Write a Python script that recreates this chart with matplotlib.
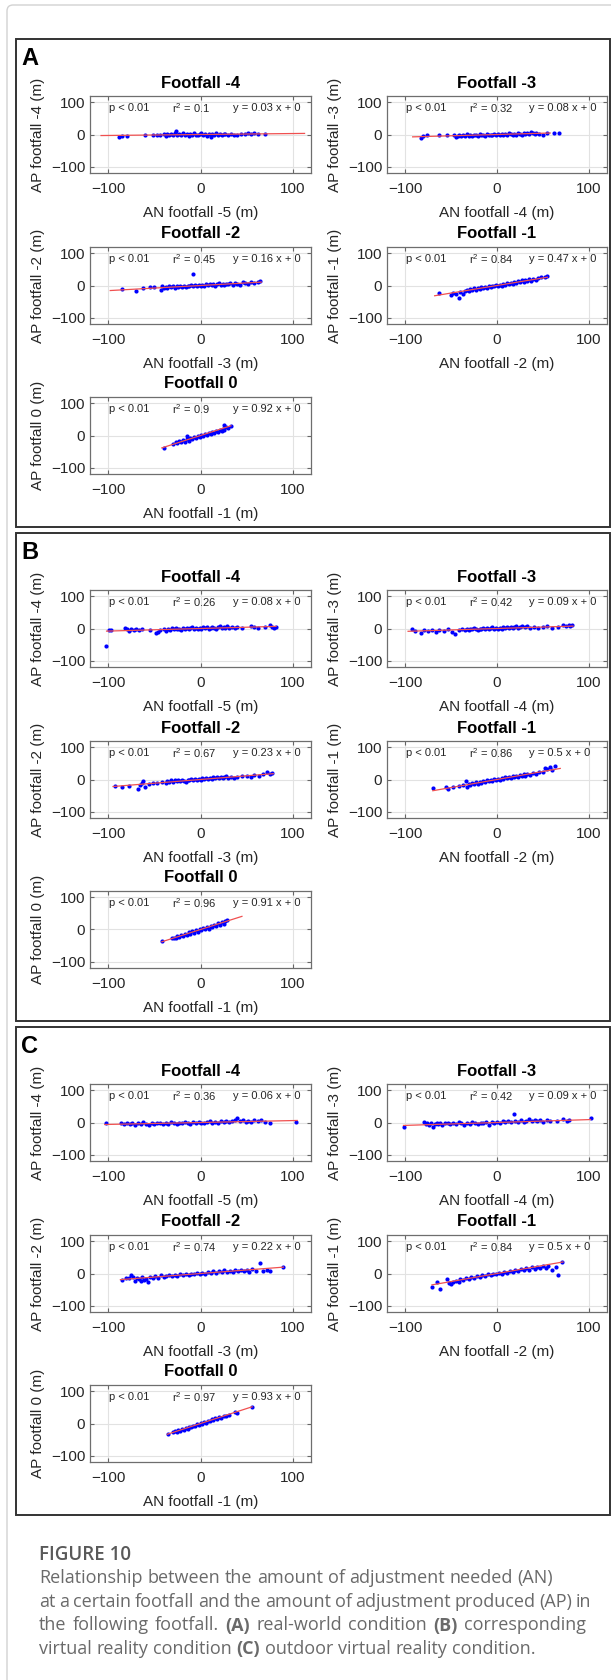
import numpy as np
import matplotlib
matplotlib.use("Agg")
import matplotlib.pyplot as plt
from matplotlib.patches import Rectangle, FancyBboxPatch
from matplotlib.transforms import IdentityTransform

W, H = 611, 1680

# ---- data: (AN, AP) pairs per footfall ----
A4_pts = [(-88,-7),(-85,-4),(-80,-5),(-60,-1),(-52,-2),(-47,0),(-44,-3),(-40,2),(-38,-4),(-36,1),
          (-34,-2),(-32,3),(-30,-1),(-28,4),(-27,10),(-25,-3),(-23,2),(-21,-2),(-19,5),(-17,-1),
          (-15,3),(-13,-4),(-11,1),(-9,-2),(-7,4),(-5,0),(-3,-3),(-1,2),(1,6),(3,-1),(5,3),(7,-5),
          (9,1),(11,-9),(13,2),(15,-2),(17,4),(19,-1),(21,2),(23,-3),(25,1),(27,3),(30,-2),(33,2),
          (36,0),(40,-1),(44,3),(48,1),(52,4),(55,3),(58,6),(62,2),(70,2)]
A3_pts = [(-83,-10),(-81,-4),(-76,-3),(-63,-1),(-55,0),(-47,-2),(-45,-8),(-43,-4),(-41,0),(-39,-6),
          (-37,-2),(-35,-5),(-33,1),(-31,-4),(-29,-1),(-27,-6),(-25,-2),(-23,0),(-21,-4),(-19,1),
          (-17,-3),(-15,-1),(-13,-5),(-11,2),(-9,-2),(-7,0),(-5,-3),(-3,2),(-1,-1),(1,1),(3,-2),
          (5,3),(7,0),(9,2),(11,-1),(13,4),(15,1),(17,-2),(19,3),(21,0),(23,4),(25,2),(27,-1),
          (29,5),(31,2),(33,4),(35,1),(37,9),(39,5),(41,3),(43,6),(46,2),(50,-1),(55,5),(62,6),(68,5)]
A2_pts = [(-85,-12),(-70,-17),(-62,-9),(-55,-6),(-50,-5),(-43,-13),(-42,-3),(-40,-9),(-38,-4),(-36,-7),
          (-34,-2),(-32,-6),(-30,-3),(-28,-8),(-26,-1),(-24,-5),(-22,-2),(-20,-6),(-18,0),(-16,-4),
          (-14,-1),(-12,-3),(-10,2),(-8,35),(-8,-2),(-6,1),(-4,-3),(-2,2),(0,0),(2,3),(4,-1),(6,4),
          (8,1),(10,5),(12,2),(14,6),(16,0),(18,4),(20,7),(22,3),(24,5),(26,1),(28,6),(30,4),(32,8),
          (35,3),(38,9),(40,5),(43,2),(46,10),(48,7),(52,4),(55,12),(58,9),(62,11),(65,14)]
A1_pts = [(-63,-24),(-50,-31),(-48,-24),(-45,-26),(-42,-40),(-40,-20),(-37,-28),(-35,-16),(-33,-14),
          (-31,-18),(-29,-12),(-27,-15),(-25,-9),(-23,-13),(-21,-8),(-19,-11),(-17,-5),(-15,-9),
          (-13,-4),(-11,-7),(-9,-2),(-7,-5),(-5,0),(-3,-3),(-1,2),(1,-1),(3,3),(5,0),(7,5),(9,2),
          (11,7),(13,4),(15,9),(17,6),(19,12),(21,8),(23,14),(25,10),(27,16),(29,12),(31,17),(33,13),
          (35,19),(37,15),(39,20),(42,18),(45,24),(48,25),(52,27),(55,31)]
A0_pts = [(-40,-38),(-30,-25),(-27,-20),(-25,-24),(-23,-18),(-21,-21),(-19,-15),(-17,-19),(-15,-3),
          (-15,-12),(-13,-16),(-11,-7),(-9,-12),(-7,-4),(-5,-9),(-3,0),(-1,-5),(1,3),(3,-2),(5,6),
          (7,1),(9,9),(11,4),(13,12),(15,7),(17,15),(19,11),(21,18),(23,13),(24,21),(25,32),(26,17),
          (28,25),(30,22),(33,29)]

B4_pts = [(-103,-55),(-99,-4),(-97,-6),(-82,2),(-80,0),(-78,-8),(-75,-2),(-72,-5),(-70,-1),(-67,-6),
          (-64,-3),(-55,-4),(-48,-14),(-46,-10),(-44,-6),(-40,-3),(-37,-8),(-35,-1),(-33,-4),(-31,1),
          (-29,-3),(-27,2),(-25,-2),(-23,0),(-21,-4),(-19,2),(-17,-1),(-15,3),(-13,-2),(-11,1),(-9,4),
          (-7,-1),(-5,2),(-3,-2),(-1,3),(1,0),(3,4),(5,1),(7,5),(9,-1),(11,3),(13,6),(15,2),(17,-1),
          (19,4),(21,7),(23,2),(25,5),(27,1),(29,8),(31,3),(34,6),(37,2),(40,5),(45,1),(55,9),(58,5),
          (62,3),(70,4),(75,10),(78,6),(80,3),(82,6)]
B3_pts = [(-93,-2),(-89,-8),(-83,-15),(-80,-6),(-75,-9),(-71,-4),(-67,-10),(-63,-5),(-58,-8),(-53,-3),
          (-49,-12),(-46,-16),(-42,-4),(-38,-2),(-35,-6),(-33,-1),(-31,-4),(-29,0),(-27,-3),(-25,1),
          (-23,-2),(-21,-5),(-19,0),(-17,-3),(-15,2),(-13,-1),(-11,3),(-9,-2),(-7,1),(-5,4),(-3,0),
          (-1,2),(1,-1),(3,3),(5,0),(7,4),(9,1),(11,5),(13,2),(15,6),(17,1),(19,4),(21,7),(23,3),
          (25,5),(27,8),(30,4),(33,7),(36,3),(40,6),(45,2),(50,5),(55,8),(60,3),(66,6),(72,10),(75,7),
          (78,12),(80,8),(82,11)]
B2_pts = [(-93,-20),(-85,-22),(-78,-19),(-68,-30),(-66,-18),(-64,-10),(-62,-6),(-60,-22),(-56,-15),
          (-52,-12),(-47,-10),(-42,-9),(-38,-11),(-36,-5),(-34,-9),(-32,-3),(-30,-7),(-28,-2),(-26,-6),
          (-24,-1),(-22,-5),(-20,0),(-18,-4),(-16,-8),(-14,-1),(-12,-3),(-10,1),(-8,-2),(-6,2),(-4,-1),
          (-2,3),(0,0),(2,4),(4,1),(6,5),(8,2),(10,6),(12,3),(14,7),(16,4),(18,9),(20,5),(22,8),(24,4),
          (26,7),(28,10),(30,6),(33,9),(36,5),(40,8),(45,10),(50,12),(55,9),(58,14),(63,10),(68,17),
          (72,22),(75,16),(78,21)]
B1_pts = [(-70,-28),(-56,-24),(-53,-29),(-48,-22),(-42,-20),(-37,-17),(-34,-6),(-33,-22),(-31,-14),
          (-29,-18),(-27,-11),(-25,-15),(-23,-9),(-21,-13),(-19,-7),(-17,-11),(-15,-5),(-13,-8),
          (-11,-3),(-9,-6),(-7,-1),(-5,-4),(-3,1),(-1,-2),(1,3),(3,0),(5,5),(7,2),(9,7),(11,4),(13,9),
          (15,5),(17,11),(19,7),(21,12),(23,9),(25,14),(27,10),(29,16),(31,12),(33,18),(36,15),(39,20),
          (42,17),(46,24),(50,22),(52,36),(55,34),(58,40),(60,30),(63,42)]
B0_pts = [(-42,-37),(-31,-28),(-29,-25),(-27,-27),(-25,-21),(-23,-24),(-21,-17),(-19,-21),(-17,-13),
          (-15,-17),(-13,-9),(-11,-14),(-9,-6),(-7,-11),(-5,-2),(-3,-7),(-1,1),(1,-3),(3,5),(5,0),
          (7,8),(9,3),(11,12),(13,7),(15,15),(17,10),(19,19),(21,14),(23,22),(25,18),(27,26),(29,30)]

C4_pts = [(-103,0),(-86,-2),(-83,-4),(-80,-1),(-77,-6),(-74,-3),(-71,-8),(-68,-2),(-65,-5),(-62,1),
          (-59,-4),(-56,-7),(-53,-2),(-50,-5),(-47,0),(-44,-3),(-41,-6),(-38,-1),(-35,-4),(-32,1),
          (-29,-2),(-26,-5),(-23,0),(-20,-3),(-17,2),(-14,-1),(-11,-4),(-8,1),(-5,-2),(-2,3),(1,0),
          (4,-3),(7,2),(10,5),(13,0),(16,3),(19,-1),(22,4),(25,1),(28,6),(31,2),(34,5),(37,9),(40,15),
          (43,4),(46,8),(49,3),(52,6),(55,2),(58,7),(62,4),(66,9),(70,3),(76,-2),(104,2)]
C3_pts = [(-101,-14),(-80,2),(-78,-5),(-76,-1),(-74,-8),(-72,-3),(-70,-14),(-68,-4),(-66,0),(-64,-6),
          (-62,-2),(-60,-9),(-57,-3),(-54,0),(-51,-6),(-48,-2),(-45,-5),(-42,1),(-39,-3),(-36,-7),
          (-33,0),(-30,-4),(-27,1),(-24,-2),(-21,-5),(-18,0),(-15,-3),(-12,2),(-9,-8),(-6,1),(-3,-2),
          (0,3),(3,0),(6,4),(9,1),(12,5),(15,2),(18,25),(20,6),(23,3),(26,7),(29,2),(32,6),(35,10),
          (38,4),(41,8),(44,5),(47,9),(50,3),(54,7),(58,5),(65,6),(72,10),(76,4),(78,9),(102,13)]
C2_pts = [(-85,-20),(-81,-15),(-78,-13),(-75,-6),(-73,-10),(-71,-22),(-69,-15),(-67,-18),(-65,-24),
          (-63,-12),(-61,-20),(-59,-16),(-57,-25),(-55,-11),(-52,-14),(-49,-9),(-46,-15),(-43,-6),
          (-40,-11),(-37,-8),(-34,-4),(-31,-9),(-28,-5),(-25,-7),(-22,-2),(-19,-6),(-16,-1),(-13,-4),
          (-10,0),(-7,-3),(-4,2),(-1,-1),(2,3),(5,0),(8,5),(11,2),(14,7),(17,3),(20,8),(23,5),(26,11),
          (29,6),(32,9),(35,5),(38,10),(41,7),(44,12),(47,8),(50,11),(53,6),(56,13),(60,9),(65,32),
          (68,7),(72,12),(75,8),(90,20)]
C1_pts = [(-71,-43),(-66,-28),(-62,-47),(-55,-18),(-52,-30),(-50,-34),(-48,-25),(-45,-22),(-42,-27),
          (-40,-16),(-37,-20),(-34,-14),(-31,-18),(-28,-11),(-25,-15),(-22,-9),(-19,-12),(-16,-6),
          (-13,-9),(-10,-3),(-7,-6),(-4,0),(-1,-3),(2,2),(5,-1),(8,5),(11,2),(14,8),(17,4),(20,11),
          (23,7),(26,14),(29,10),(32,16),(35,12),(38,19),(41,15),(44,21),(47,17),(50,23),(53,18),
          (56,24),(60,12),(64,20),(67,-5),(71,36)]
C0_pts = [(-35,-33),(-30,-28),(-28,-24),(-26,-26),(-24,-21),(-22,-23),(-20,-18),(-18,-20),(-16,-14),
          (-14,-16),(-12,-10),(-10,-12),(-8,-7),(-6,-9),(-4,-3),(-2,-5),(0,1),(2,-1),(4,5),(6,3),
          (8,9),(10,7),(12,13),(14,10),(16,16),(18,14),(20,19),(22,17),(25,22),(28,24),(31,27),
          (38,36),(40,33),(56,52)]

# regression annotations per footfall (-4, -3, -2, -1, 0)
A_slopes = [0.03, 0.08, 0.16, 0.47, 0.92]
A_r2 = [0.1, 0.32, 0.45, 0.84, 0.9]
B_slopes = [0.08, 0.09, 0.23, 0.5, 0.91]
B_r2 = [0.26, 0.42, 0.67, 0.86, 0.96]
C_slopes = [0.06, 0.09, 0.22, 0.5, 0.93]
C_r2 = [0.36, 0.42, 0.74, 0.84, 0.97]

# x extent of the fitted line
A_fit = [(-108, 113), (-92, 58), (-98, 66), (-68, 55), (-42, 33)]
B_fit = [(-102, 82), (-97, 83), (-95, 79), (-70, 69), (-42, 45)]
C_fit = [(-104, 105), (-102, 102), (-87, 90), (-71, 72), (-36, 56)]

FOOTFALLS = [-4, -3, -2, -1, 0]
TICKS = [-100, 0, 100]

CAPTION_TITLE = "FIGURE 10"
CAPTION_LINES = [
    "Relationship between the amount of adjustment needed (AN)",
    "at a certain footfall and the amount of adjustment produced (AP) in",
    "the following footfall. **(A)** real-world condition **(B)** corresponding",
    "virtual reality condition **(C)** outdoor virtual reality condition.",
]
CAPTION_JUSTIFY = [False, True, True, False]

plt.rcParams['font.family'] = ['Liberation Sans', 'DejaVu Sans']
plt.rcParams['mathtext.default'] = 'regular'

fig = plt.figure(figsize=(W / 100, H / 100), dpi=100)


def fx(x):
    return x / W


def fy(y):
    return 1 - y / H


# light page frame
frame = FancyBboxPatch((7, -40), 700, H - 5 + 40, boxstyle="round,pad=0,rounding_size=6",
                       transform=IdentityTransform(), fill=False, ec='#d2d2d2', lw=1.0)
fig.patches.append(frame)

panels = [
    ("A", [A4_pts, A3_pts, A2_pts, A1_pts, A0_pts], A_slopes, A_r2, A_fit),
    ("B", [B4_pts, B3_pts, B2_pts, B1_pts, B0_pts], B_slopes, B_r2, B_fit),
    ("C", [C4_pts, C3_pts, C2_pts, C1_pts, C0_pts], C_slopes, C_r2, C_fit),
]

ROW_TOP = [96, 247, 397]
COL_LEFT = [90, 387]
COL_W = [221, 220]
AX_H = 77

for p, (letter, pts_list, slopes, r2s, fits) in enumerate(panels):
    off = p * 494
    box = Rectangle((fx(15.5), fy(527 + off)), fx(610) - fx(15.5), 488 / H,
                    transform=fig.transFigure, fill=False, ec='#333333', lw=1.4)
    fig.patches.append(box)
    fig.text(fx(21), fy(47 + off), letter, fontsize=17, fontweight='bold', va='top', ha='left')

    for i, f in enumerate(FOOTFALLS):
        r, c = divmod(i, 2)
        left, w = COL_LEFT[c], COL_W[c]
        top = ROW_TOP[r] + off
        ax = fig.add_axes([fx(left), fy(top + AX_H), w / W, AX_H / H])

        xy = np.array(pts_list[i], dtype=float)
        ax.scatter(xy[:, 0], xy[:, 1], s=9, color='#0000ff', linewidths=0, zorder=2)
        lx = np.array(fits[i], dtype=float)
        ax.plot(lx, slopes[i] * lx, color='#f05050', lw=0.9, zorder=3)

        ax.set_xlim(-120, 120)
        ax.set_ylim(-120, 120)
        ax.set_xticks(TICKS)
        ax.set_yticks(TICKS)
        ax.grid(True, color='#e2e2e2', lw=0.8)
        ax.set_axisbelow(True)
        ax.tick_params(direction='in', length=3, width=0.8, top=True, right=True,
                       labelsize=11, colors='#666666', labelcolor='#262626')
        ax.tick_params(axis='x', pad=6.5)
        ax.tick_params(axis='y', pad=3.5)
        for s in ax.spines.values():
            s.set_color('#6e6e6e')
            s.set_linewidth(0.9)

        ax.text(0.5, 1 + 13 / AX_H, f"Footfall {f}", transform=ax.transAxes,
                ha='center', va='center', fontsize=12, fontweight='bold')
        ax.text(0.5, -40 / AX_H, f"AN footfall {f - 1} (m)", transform=ax.transAxes,
                ha='center', va='center', fontsize=11, color='#262626')
        ax.text(-52 / w, 0.5, f"AP footfall {f} (m)", transform=ax.transAxes,
                ha='center', va='center', rotation=90, fontsize=11, color='#262626')

        ann = dict(transform=ax.transAxes, va='center', ha='left', fontsize=8,
                   color='#262626', family=['Liberation Sans Narrow', 'Liberation Sans'])
        ax.text(0.085, 0.845, "p < 0.01", **ann)
        ax.text(0.372, 0.845, f"r$^2$ = {r2s[i]:g}", **ann)
        ax.text(0.645, 0.845, f"y = {slopes[i]:g} x + 0", **ann)

# caption
cap_font = ['Open Sans', 'Noto Sans', 'DejaVu Sans']
fig.text(fx(39), fy(1560), CAPTION_TITLE, fontsize=13.5, fontweight='semibold',
         color='#595959', family=cap_font, va='baseline', ha='left')

renderer = fig.canvas.get_renderer()
baselines = [1583, 1607, 1630.5, 1654]
cap_size = 13
for line, just, base in zip(CAPTION_LINES, CAPTION_JUSTIFY, baselines):
    words = line.split(' ')
    texts = []
    for wd in words:
        bold = wd.startswith('**')
        t = fig.text(0, fy(base), wd.strip('*'), fontsize=cap_size, color='#6a6a6a', family=cap_font,
                     fontweight='bold' if bold else 'normal', va='baseline', ha='left')
        texts.append(t)
    widths = [t.get_window_extent(renderer).width for t in texts]
    space = cap_size * 0.26 * 100 / 72
    if just:
        space = max((586 - 39 - sum(widths)) / (len(texts) - 1), 0.8 * space)
    x = 39
    for t, wd in zip(texts, widths):
        t.set_x(fx(x))
        x += wd + space

fig.savefig("out.png", dpi=100)
